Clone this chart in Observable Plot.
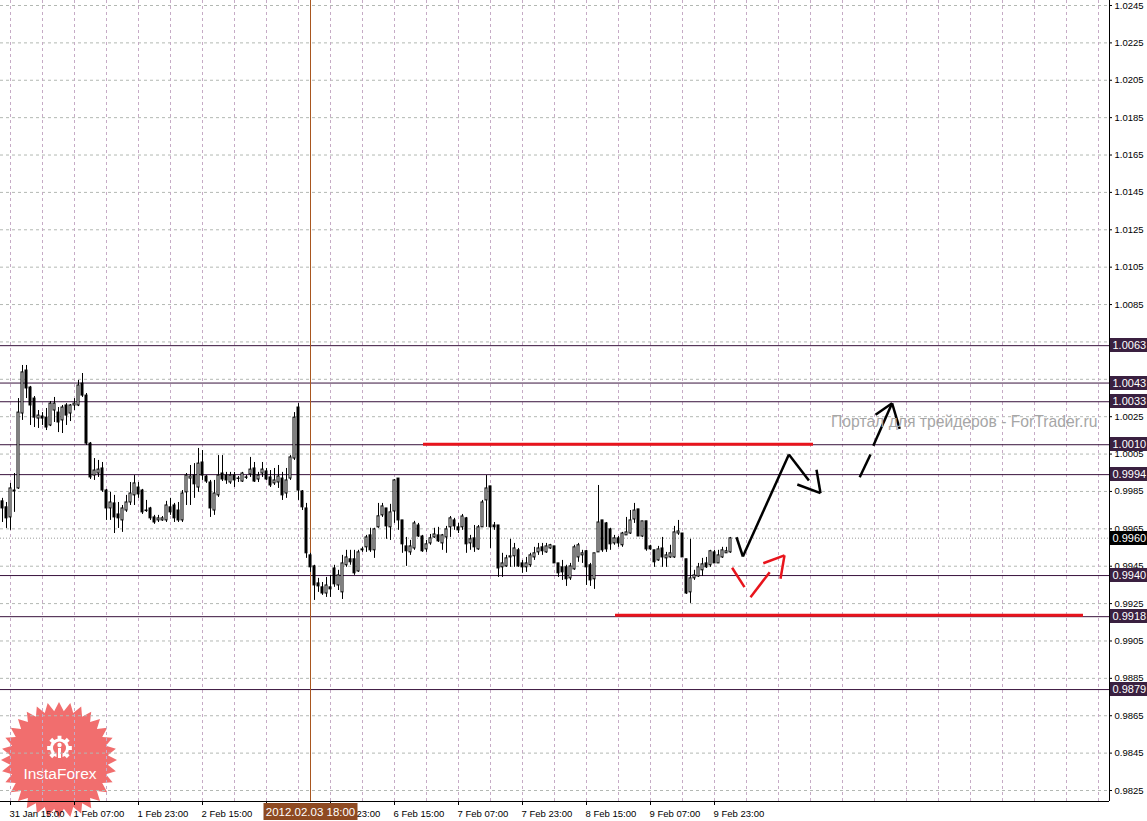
<!DOCTYPE html>
<html><head><meta charset="utf-8">
<script src="https://cdn.jsdelivr.net/npm/d3@7"></script>
<script src="https://cdn.jsdelivr.net/npm/@observablehq/plot@0.6"></script>
<style>
html,body{margin:0;padding:0;background:#fff;}
#chart{position:relative;width:1147px;height:821px;overflow:hidden;}
</style></head><body><div id="chart"></div>
<script>
// ---- hourly candles (bar index 0 = 31 Jan 13:00) ----
const opens = [0.99797,0.99765,0.99711,0.99850,0.99866,1.00267,1.00497,1.00406,1.00347,1.00240,
1.00251,1.00245,1.00203,1.00283,1.00272,1.00230,1.00310,1.00267,1.00310,1.00310,
1.00427,1.00363,1.00106,0.99935,0.99946,0.99973,0.99855,0.99759,0.99786,0.99727,
0.99695,0.99748,0.99791,0.99829,0.99871,0.99855,0.99748,0.99759,0.99711,0.99695,
0.99695,0.99695,0.99765,0.99775,0.99748,0.99695,0.99845,0.99919,0.99935,0.99871,
1.00005,0.99930,0.99898,0.99748,0.99829,0.99946,0.99935,0.99898,0.99935,0.99919,
0.99903,0.99925,0.99941,0.99973,0.99914,0.99946,0.99957,0.99925,0.99893,0.99898,
0.99919,0.99839,0.99919,1.00026,1.00299,0.99850,0.99759,0.99508,0.99449,0.99358,
0.99337,0.99304,0.99337,0.99438,0.99347,0.99310,0.99455,0.99487,0.99487,0.99422,
0.99535,0.99551,0.99615,0.99535,0.99658,0.99722,0.99759,0.99658,0.99743,0.99919,
0.99695,0.99556,0.99524,0.99545,0.99668,0.99609,0.99540,0.99572,0.99604,0.99615,
0.99572,0.99604,0.99658,0.99695,0.99658,0.99658,0.99706,0.99572,0.99599,0.99540,
0.99658,0.99802,0.99877,0.99668,0.99668,0.99444,0.99449,0.99497,0.99503,0.99535,
0.99465,0.99444,0.99455,0.99497,0.99524,0.99551,0.99524,0.99545,0.99556,0.99465,
0.99444,0.99444,0.99385,0.99433,0.99497,0.99508,0.99530,0.99455,0.99380,0.99524,
0.99695,0.99679,0.99647,0.99572,0.99599,0.99562,0.99615,0.99625,0.99700,0.99754,
0.99609,0.99690,0.99556,0.99535,0.99481,0.99545,0.99492,0.99497,0.99497,0.99625,
0.99625,0.99487,0.99310,0.99385,0.99395,0.99428,0.99465,0.99455,0.99524,0.99465,
0.99497,0.99519,0.99524];
const highs = [0.99813,0.99791,0.99893,0.99946,1.00347,1.00524,1.00524,1.00412,1.00358,1.00283,
1.00272,1.00294,1.00331,1.00353,1.00299,1.00310,1.00320,1.00315,1.00347,1.00444,
1.00481,1.00374,1.00112,1.00026,1.00016,1.00005,0.99861,0.99845,0.99829,0.99791,
0.99775,0.99829,0.99898,0.99935,0.99898,0.99861,0.99802,0.99765,0.99722,0.99722,
0.99716,0.99797,0.99813,0.99786,0.99791,0.99855,0.99946,0.99989,0.99999,1.00080,
1.00069,0.99935,0.99909,0.99909,1.00042,1.00042,0.99952,0.99952,0.99952,0.99930,
0.99952,0.99935,1.00032,1.00005,0.99952,1.00005,0.99973,0.99962,0.99973,0.99989,
0.99952,0.99973,1.00042,1.00272,1.00320,0.99855,0.99786,0.99519,0.99455,0.99385,
0.99363,0.99390,0.99401,0.99455,0.99428,0.99508,0.99535,0.99535,0.99535,0.99535,
0.99551,0.99615,0.99653,0.99653,0.99786,0.99786,0.99759,0.99781,0.99914,0.99919,
0.99695,0.99604,0.99588,0.99690,0.99679,0.99615,0.99588,0.99620,0.99653,0.99658,
0.99620,0.99663,0.99716,0.99706,0.99679,0.99727,0.99711,0.99615,0.99668,0.99668,
0.99802,0.99935,0.99877,0.99684,0.99668,0.99519,0.99508,0.99594,0.99572,0.99545,
0.99481,0.99497,0.99519,0.99551,0.99572,0.99572,0.99572,0.99567,0.99556,0.99465,
0.99481,0.99455,0.99465,0.99562,0.99572,0.99535,0.99535,0.99465,0.99519,0.99882,
0.99695,0.99684,0.99653,0.99615,0.99609,0.99631,0.99711,0.99748,0.99786,0.99754,
0.99690,0.99690,0.99562,0.99535,0.99556,0.99604,0.99524,0.99562,0.99663,0.99695,
0.99625,0.99487,0.99594,0.99428,0.99465,0.99492,0.99497,0.99535,0.99535,0.99535,
0.99551,0.99551,0.99604];
const lows = [0.99684,0.99652,0.99642,0.99738,0.99861,1.00230,1.00347,1.00203,1.00192,1.00187,
1.00203,1.00176,1.00197,1.00219,1.00165,1.00160,1.00203,1.00224,1.00283,1.00304,
1.00353,1.00096,0.99914,0.99909,0.99925,0.99845,0.99695,0.99695,0.99625,0.99652,
0.99631,0.99738,0.99775,0.99775,0.99813,0.99727,0.99738,0.99695,0.99674,0.99684,
0.99690,0.99684,0.99722,0.99684,0.99684,0.99684,0.99775,0.99775,0.99813,0.99845,
0.99909,0.99893,0.99711,0.99722,0.99818,0.99903,0.99888,0.99888,0.99871,0.99898,
0.99898,0.99914,0.99925,0.99898,0.99898,0.99925,0.99909,0.99871,0.99882,0.99866,
0.99802,0.99813,0.99909,1.00016,0.99802,0.99748,0.99492,0.99417,0.99267,0.99310,
0.99294,0.99283,0.99283,0.99337,0.99320,0.99272,0.99444,0.99455,0.99401,0.99417,
0.99524,0.99524,0.99524,0.99492,0.99653,0.99711,0.99594,0.99588,0.99679,0.99642,
0.99519,0.99449,0.99508,0.99535,0.99604,0.99524,0.99524,0.99562,0.99599,0.99577,
0.99535,0.99519,0.99604,0.99642,0.99625,0.99642,0.99519,0.99535,0.99524,0.99535,
0.99658,0.99658,0.99545,0.99642,0.99390,0.99390,0.99444,0.99444,0.99444,0.99444,
0.99412,0.99417,0.99444,0.99481,0.99508,0.99508,0.99519,0.99540,0.99465,0.99390,
0.99374,0.99342,0.99374,0.99428,0.99471,0.99465,0.99347,0.99342,0.99326,0.99524,
0.99524,0.99524,0.99535,0.99562,0.99551,0.99551,0.99615,0.99620,0.99679,0.99609,
0.99604,0.99530,0.99535,0.99444,0.99476,0.99444,0.99444,0.99492,0.99492,0.99615,
0.99497,0.99299,0.99251,0.99374,0.99390,0.99395,0.99438,0.99444,0.99465,0.99465,
0.99492,0.99519,0.99519];
const closes = [0.99759,0.99706,0.99866,0.99855,1.00272,1.00487,1.00401,1.00310,1.00245,1.00256,
1.00240,1.00192,1.00320,1.00320,1.00219,1.00299,1.00256,1.00310,1.00320,1.00417,
1.00363,1.00106,0.99925,0.99962,0.99967,0.99855,0.99759,0.99791,0.99711,0.99706,
0.99759,0.99791,0.99839,0.99893,0.99834,0.99738,0.99745,0.99706,0.99684,0.99706,
0.99706,0.99775,0.99738,0.99706,0.99695,0.99839,0.99935,0.99930,0.99888,0.99999,
0.99935,0.99903,0.99759,0.99839,0.99935,0.99914,0.99909,0.99935,0.99909,0.99917,
0.99946,0.99923,0.99967,0.99903,0.99935,0.99967,0.99914,0.99882,0.99909,0.99930,
0.99829,0.99909,1.00032,1.00245,0.99855,0.99765,0.99519,0.99444,0.99347,0.99342,
0.99304,0.99347,0.99326,0.99353,0.99401,0.99465,0.99497,0.99471,0.99412,0.99524,
0.99540,0.99604,0.99535,0.99647,0.99717,0.99770,0.99663,0.99738,0.99909,0.99695,
0.99567,0.99530,0.99556,0.99679,0.99609,0.99530,0.99567,0.99599,0.99620,0.99583,
0.99615,0.99647,0.99706,0.99663,0.99642,0.99716,0.99567,0.99594,0.99551,0.99658,
0.99791,0.99866,0.99658,0.99658,0.99438,0.99465,0.99492,0.99503,0.99545,0.99449,
0.99444,0.99465,0.99508,0.99519,0.99545,0.99530,0.99556,0.99562,0.99465,0.99412,
0.99417,0.99380,0.99449,0.99551,0.99562,0.99519,0.99444,0.99374,0.99519,0.99684,
0.99535,0.99540,0.99567,0.99599,0.99572,0.99625,0.99631,0.99695,0.99748,0.99609,
0.99690,0.99540,0.99540,0.99471,0.99540,0.99497,0.99508,0.99519,0.99631,0.99636,
0.99497,0.99304,0.99385,0.99401,0.99444,0.99460,0.99444,0.99530,0.99465,0.99508,
0.99535,0.99530,0.99599];

// ---- axis ticks (labels fully hidden under highlight boxes in the reference are omitted) ----
const xTickBars = [2,18,34,50,82,98,114,130,146,162,178];
const xTickLabels = ["31 Jan 15:00","1 Feb 07:00","1 Feb 23:00","2 Feb 15:00","3 Feb 23:00",
  "6 Feb 15:00","7 Feb 07:00","7 Feb 23:00","8 Feb 15:00","9 Feb 07:00","9 Feb 23:00"];
const xTickMarks = [2,18,34,50,66,82,98,114,130,146,162,178];
const yTicks = [0.9825,0.9845,0.9865,0.9885,0.9905,0.9925,0.9945,0.9965,0.9985,1.0005,1.0025,
  1.0045,1.0065,1.0085,1.0105,1.0125,1.0145,1.0165,1.0185,1.0205,1.0225,1.0245];
const yTickLabels = [0.9825,0.9845,0.9865,0.9885,0.9905,0.9925,0.9945,0.9965,0.9985,1.0005,1.0025,
  1.0045,1.0085,1.0105,1.0125,1.0145,1.0165,1.0185,1.0205,1.0225,1.0245];

// ---- horizontal levels, bid, marked bar ----
const levels = [1.0063,1.0043,1.0033,1.0010,0.9994,0.9940,0.9918,0.9879];
const bidLevel = 0.9960;
const markedBar = 77;
const markedLabel = "2012.02.03 18:00";

// ---- hand-drawn annotations [bar1, price1, bar2, price2] ----
const redLines = [[105.25,1.00103,202.75,1.00103],[153.25,0.99187,270.25,0.99187]];
const blackArrow = [[183.5,0.99605,185.1,0.99502],[185.1,0.99502,196.6,1.00048],[196.6,1.00048,201.6,0.99909],
  [198.7,0.99887,204.5,0.99841],[203.5,0.99966,204.5,0.99841]];
const blackDashedArrow = [[214.3,0.99926,217.0,1.00048],[217.7,1.00094,222.4,1.00322],
  [218.25,1.00260,222.4,1.00322],[222.4,1.00322,224.3,1.00185]];
const redArrow = [[182.4,0.99442,185.5,0.99338],[187.0,0.99284,191.8,0.99418],
  [190.2,0.99466,195.5,0.99508],[195.5,0.99508,194.5,0.99383]];

const watermark = "Портал для трейдеров - ForTrader.ru";

// ---- build ----
const bars = opens.map((o,i)=>({i, o, h:highs[i], l:lows[i], c:closes[i], up: closes[i] >= o}));
const seg = arr => arr.map(([x1,y1,x2,y2]) => ({x1,y1,x2,y2}));
const X_MIN = -0.5, X_MAX = 276.75;
const K = 785/0.042; // px per price unit
const Y_MAX = 1.0245 + 5/K, Y_MIN = 1.0245 - 796/K;
const gridBars = d3.range(2, 277, 8);
const FONT = "'Liberation Sans', Arial, sans-serif";

const plot = Plot.plot({
  width: 1147, height: 821,
  marginLeft: 0, marginRight: 38, marginTop: 0, marginBottom: 20,
  style: {background: "white", fontFamily: FONT, fontSize: "9.5px", color: "black", overflow: "visible"},
  x: {type: "linear", domain: [X_MIN, X_MAX], axis: null},
  y: {type: "linear", domain: [Y_MIN, Y_MAX], axis: null},
  marks: [
    Plot.ruleY(yTicks, {stroke: "#b3b8b3", strokeDasharray: "3,3"}),
    Plot.ruleX(gridBars, {stroke: "#c6abc6", strokeDasharray: "3,3"}),
    Plot.ruleY([bidLevel], {stroke: "#9a9a9a", strokeDasharray: "1,2"}),
    Plot.ruleY(levels, {stroke: "#38123c"}),
    Plot.ruleX([markedBar], {stroke: "#a8561f"}),
    Plot.ruleX(bars, {x: "i", y1: "l", y2: "h", stroke: "black"}),
    Plot.rect(bars, {x1: d => d.i - 0.25, x2: d => d.i + 0.25, y1: "o", y2: "c",
      fill: d => d.up ? "white" : "black", stroke: "black"}),
    Plot.ruleY(seg(redLines), {y: "y1", x1: "x1", x2: "x2", stroke: "#e8141c", strokeWidth: 3}),
    Plot.link(seg(blackArrow), {x1: "x1", y1: "y1", x2: "x2", y2: "y2", stroke: "black", strokeWidth: 2.5}),
    Plot.link(seg(blackDashedArrow), {x1: "x1", y1: "y1", x2: "x2", y2: "y2", stroke: "black", strokeWidth: 2.5}),
    Plot.link(seg(redArrow), {x1: "x1", y1: "y1", x2: "x2", y2: "y2", stroke: "#e8141c", strokeWidth: 2.5}),
    // axes frame
    Plot.ruleX([X_MAX], {y1: Y_MIN, y2: Y_MAX, stroke: "black"}),
    Plot.ruleY([Y_MIN], {x1: X_MIN, x2: X_MAX, stroke: "black"}),
    // right axis ticks + labels
    Plot.ruleY(yTicks, {x1: X_MAX, x2: X_MAX + 0.75, stroke: "black"}),
    Plot.text(yTickLabels, {x: X_MAX, y: d => d, text: d => d.toFixed(4), dx: 5, textAnchor: "start", fill: "black", fontSize: 9.5}),
    // bottom axis ticks + labels
    Plot.ruleX(xTickMarks, {y1: Y_MIN, y2: Y_MIN - 4/K, stroke: "black"}),
    Plot.text(xTickBars, {x: d => d, y: Y_MIN, text: (d, i) => xTickLabels[i], dy: 12, dx: -1, textAnchor: "start", fill: "black", fontSize: 9.5})
  ]
});

document.getElementById("chart").appendChild(plot);
const svg = d3.select(plot);
const xs = plot.scale("x"), ys = plot.scale("y");

// InstaForex badge (beneath everything)
const badge = svg.insert("g", "g").attr("opacity", 0.82);
const cx = 59, cy = 760, N = 32, R1 = 58, R2 = 49;
const star = d3.range(N*2).map(k => {const a = k*Math.PI/N - Math.PI/2; const r = k%2 ? R2 : R1; return [cx + r*Math.cos(a), cy + r*Math.sin(a)];});
badge.append("path").attr("d", "M" + star.join("L") + "Z").attr("fill", "#ee4f4f");
const gx = 59.5, gy = 748;
const gear = [];
for (let t = 0; t < 8; t++) { const th = t*Math.PI/4 - Math.PI/2;
  gear.push([th-0.39,9.5],[th-0.2,9.5],[th-0.16,12.5],[th+0.16,12.5],[th+0.2,9.5]); }
badge.append("path").attr("d", "M" + gear.map(([a,r]) => [gx + r*Math.cos(a), gy + r*Math.sin(a)]).join("L") + "Z").attr("fill", "white");
badge.append("circle").attr("cx", gx).attr("cy", gy).attr("r", 6.5).attr("fill", "#ee4f4f");
badge.append("rect").attr("x", gx-3).attr("y", gy+6).attr("width", 6).attr("height", 8).attr("fill", "#ee4f4f");
badge.append("circle").attr("cx", gx).attr("cy", gy-3).attr("r", 2.2).attr("fill", "white");
badge.append("rect").attr("x", gx-1.5).attr("y", gy).attr("width", 3).attr("height", 10).attr("fill", "white");
badge.append("text").attr("x", cx+1).attr("y", 773).attr("text-anchor", "middle").attr("dominant-baseline", "central")
  .attr("fill", "white").attr("font-family", FONT).attr("font-size", 15.5).text("InstaForex");

// watermark
svg.append("text").attr("x", 831).attr("y", 421).attr("text-anchor", "start").attr("dominant-baseline", "central")
  .attr("fill", "#a6a6a6").attr("font-family", FONT).attr("font-size", 15.7).text(watermark);

// level label boxes on the price axis
const boxG = svg.append("g");
levels.concat([bidLevel]).forEach(v => {
  const y = Math.round(ys.apply(v));
  boxG.append("rect").attr("x", 1110).attr("y", y - 7).attr("width", 40).attr("height", 14)
    .attr("fill", v === bidLevel ? "black" : "#3a2040");
  boxG.append("text").attr("x", 1112.5).attr("y", y).attr("text-anchor", "start").attr("dominant-baseline", "central")
    .attr("fill", "white").attr("font-family", FONT).attr("font-size", 11).text(v.toFixed(4));
});

// marked time label
const mx = Math.round(xs.apply(markedBar)) + 0.5;
svg.append("rect").attr("x", mx - 47).attr("y", 803).attr("width", 94).attr("height", 17).attr("fill", "#8e4a22");
svg.append("text").attr("x", mx).attr("y", 812).attr("text-anchor", "middle").attr("dominant-baseline", "central")
  .attr("fill", "white").attr("font-family", FONT).attr("font-size", 11.5).text(markedLabel);
</script>
</body></html>
